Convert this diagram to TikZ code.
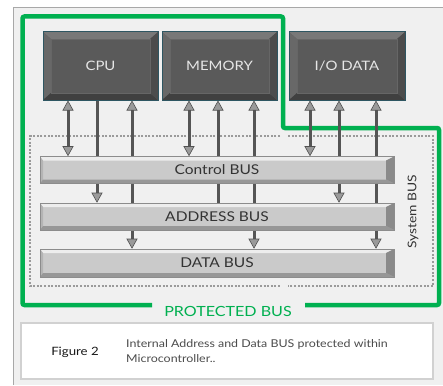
\documentclass[tikz,border=0pt]{standalone}
\usepackage{fontspec}
\setmainfont{Lato}[FakeStretch=1.15]
\usetikzlibrary{arrows.meta,calc}
\definecolor{framebg}{HTML}{F0F0F0}
\definecolor{frameln}{HTML}{A8A8A8}
\definecolor{pgreen}{HTML}{00B050}
\definecolor{boxface}{HTML}{5A5A5A}
\definecolor{boxedge}{HTML}{2E5662}
\definecolor{boxtop}{HTML}{787878}
\definecolor{boxleft}{HTML}{686868}
\definecolor{boxbot}{HTML}{404040}
\definecolor{boxright}{HTML}{4C4C4C}
\definecolor{boxtext}{HTML}{E6E6E6}
\definecolor{barface}{HTML}{CACACA}
\definecolor{bartop}{HTML}{EDEDED}
\definecolor{barbot}{HTML}{979797}
\definecolor{barright}{HTML}{8A8A8A}
\definecolor{barleft}{HTML}{B4B4B4}
\definecolor{baredge}{HTML}{8C8C8C}
\definecolor{bartext}{HTML}{333333}
\definecolor{shaft}{HTML}{555555}
\definecolor{tipfill}{HTML}{9A9A9A}
\definecolor{tipedge}{HTML}{505050}
\definecolor{dotc}{HTML}{9A9A9A}
\pgfdeclarelayer{back}
\pgfdeclarelayer{bg}
\pgfsetlayers{back,bg,main}
\tikzset{
  darkbox/.style={minimum width=115pt, minimum height=68pt, inner sep=0pt,
    fill=boxface, draw=boxedge, line width=1pt, text=boxtext,
    font=\fontsize{13}{15}\selectfont,
    path picture={
      \path (path picture bounding box.north west) coordinate (pnw)
            (path picture bounding box.south east) coordinate (pse);
      \fill[boxtop] (pnw) -- (pnw -| pse) -- ($(pnw -| pse)+(-8pt,-7pt)$) -- ($(pnw)+(8pt,-7pt)$) -- cycle;
      \fill[boxleft] (pnw) -- ($(pnw)+(8pt,-7pt)$) -- ($(pnw |- pse)+(8pt,7pt)$) -- (pnw |- pse) -- cycle;
      \fill[boxbot] (pnw |- pse) -- ($(pnw |- pse)+(8pt,7pt)$) -- ($(pse)+(-8pt,7pt)$) -- (pse) -- cycle;
      \fill[boxright] (pse) -- ($(pse)+(-8pt,7pt)$) -- ($(pnw -| pse)+(-8pt,-7pt)$) -- (pnw -| pse) -- cycle;
      \draw[line width=0.6pt, boxbot!80] ($(pnw)+(8pt,-7pt)$) rectangle ($(pse)+(-8pt,7pt)$);
    }},
  busbar/.style={minimum width=354pt, minimum height=27pt, inner sep=0pt,
    fill=barface, draw=baredge, line width=0.6pt, text=bartext,
    font=\fontsize{13.5}{15}\selectfont,
    path picture={
      \path (path picture bounding box.north west) coordinate (pnw)
            (path picture bounding box.south east) coordinate (pse);
      \fill[bartop] (pnw) -- (pnw -| pse) -- ($(pnw -| pse)+(-8pt,-4pt)$) -- ($(pnw)+(3pt,-4pt)$) -- cycle;
      \fill[barleft] (pnw) -- ($(pnw)+(3pt,-4pt)$) -- ($(pnw |- pse)+(3pt,4pt)$) -- (pnw |- pse) -- cycle;
      \fill[barbot] (pnw |- pse) -- ($(pnw |- pse)+(3pt,4pt)$) -- ($(pse)+(-8pt,4pt)$) -- (pse) -- cycle;
      \fill[barright] (pse) -- ($(pse)+(-8pt,4pt)$) -- ($(pnw -| pse)+(-8pt,-4pt)$) -- (pnw -| pse) -- cycle;
    }},
  shaftline/.style={line width=3pt, shaft},
  >={Triangle[width=11pt,length=10pt,line width=0.6pt,fill=tipfill,color=tipedge]},
  dotline/.style={dotc, line width=2pt, dash pattern=on 2pt off 1.6pt},
  greenline/.style={pgreen, line width=4.5pt, rounded corners=2pt},
}
\begin{document}
\begin{tikzpicture}[x=1pt,y=-1pt]
\useasboundingbox (0,0) rectangle (443,385);
\begin{pgfonlayer}{back}
  \fill[white] (0,0) rectangle (443,385);
  \fill[framebg] (13,7) rectangle (443,385);
  \draw[frameln, line width=0.8pt] (13,385) -- (13,7) -- (443,7);
  \draw[greenline] (152,305) -- (22.5,305) -- (22.5,16.5) -- (283,16.5) -- (283,128) -- (439,128) -- (439,305) -- (305,305);
  \draw[dotline] (280,136) -- (30,136) -- (30,286) -- (280,286);
  \draw[dotline] (288,136) -- (433,136) -- (433,286) -- (288,286);
\end{pgfonlayer}

\node[darkbox] (cpu) at (100.5,66) {CPU};
\node[darkbox] (mem) at (219.5,66) {MEMORY};
\node[darkbox, minimum width=116pt] (io) at (347,66) {I/O DATA};

\node[busbar] (ctrl) at (217,170) {Control BUS};
\node[busbar] (addr) at (217,216.5) {ADDRESS BUS};
\node[busbar, minimum height=28pt] (data) at (217,263) {DATA BUS};

\node[rotate=90, text=bartext, font=\fontsize{12}{14}\selectfont] (sysbus) at (413,212) {System BUS};
\node[text=pgreen, font=\fontsize{14}{15}\selectfont] (prot) at (228,311) {PROTECTED BUS};

\begin{pgfonlayer}{bg}
  % CPU group
  \draw[shaftline,<->] (68,0 |- cpu.south) -- (68,0 |- ctrl.north);
  \draw[shaftline,->] (97,0 |- cpu.south) -- (97,0 |- addr.north);
  \draw[shaftline,<->] (132,0 |- cpu.south) -- (132,0 |- data.north);
  % MEMORY group
  \draw[shaftline,<->] (189,0 |- mem.south) -- (189,0 |- ctrl.north);
  \draw[shaftline,<-] (218,0 |- mem.south) -- (218,0 |- addr.north);
  \draw[shaftline,<->] (254,0 |- mem.south) -- (254,0 |- data.north);
  % I/O group
  \draw[shaftline,<->] (310,0 |- io.south) -- (310,0 |- ctrl.north);
  \draw[shaftline,<->] (339,0 |- io.south) -- (339,0 |- addr.north);
  \draw[shaftline,<->] (376,0 |- io.south) -- (376,0 |- data.north);
\end{pgfonlayer}

\node[fill=white, draw=black!18, line width=1.5pt, minimum width=412pt, minimum height=56pt, inner sep=0pt] (capbox) at (227,351) {};
\node[font=\fontsize{11.5}{12}\selectfont, text=black!90] (fig) at (75,352) {Figure 2};
\node[anchor=west, align=left, font=\fontsize{10.8}{15}\selectfont, text=black!70, inner sep=0pt] (captxt) at (126,351.5) {Internal Address and Data BUS protected within\\Microcontroller..};
\end{tikzpicture}
\end{document}
